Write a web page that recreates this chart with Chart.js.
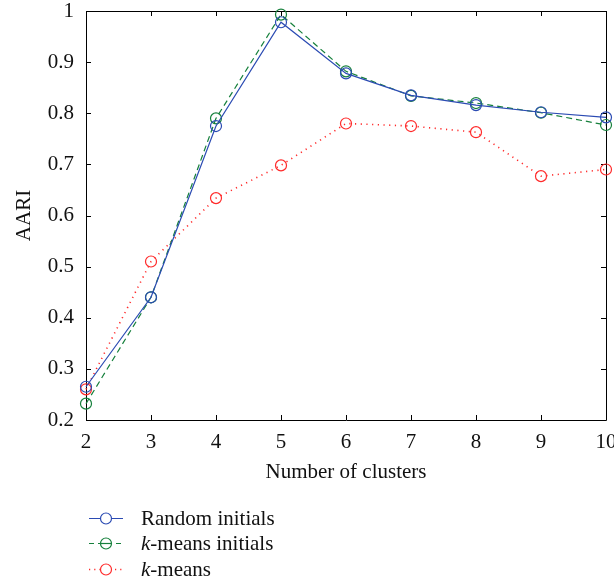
<!DOCTYPE html>
<html>
<head>
<meta charset="utf-8">
<script src="https://cdn.jsdelivr.net/npm/chart.js@4"></script>
<style>
  html, body {margin: 0; padding: 0; background: #fff;}
  canvas {display: block;}
</style>
</head>
<body>
<canvas id="chart_aari" width="614" height="583"></canvas>
<script>
// data - 클러스터 수
const clusters = ['2', '3', '4', '5', '6', '7', '8', '9', '10'];

// data - series 값
const randomInitials = [0.265, 0.440, 0.775, 0.978, 0.878, 0.835, 0.816, 0.802, 0.792];
const kmeansInitials = [0.232, 0.440, 0.790, 0.993, 0.882, 0.834, 0.820, 0.801, 0.777];
const kmeans = [0.260, 0.510, 0.634, 0.698, 0.780, 0.775, 0.763, 0.677, 0.690];

// y축 눈금
const yTicks = [0.2, 0.3, 0.4, 0.5, 0.6, 0.7, 0.8, 0.9, 1];

const FONT = 'Liberation Serif, Times New Roman, serif';
const BLUE = '#2b4bb3';
const GREEN = '#16803c';
const RED = '#ff2a2a';

// legend 항목
const legendItems = [
    {parts: [{t: 'Random initials'}], color: BLUE, dash: []},
    {parts: [{t: 'k', italic: true}, {t: '-means initials'}], color: GREEN, dash: [5, 4], strike: true},
    {parts: [{t: 'k', italic: true}, {t: '-means'}], color: RED, dash: [1.2, 4]}
];

// 공통 line 설정
function lineSet(label, data, color, dash, width) {
    return {
        label, data,
        borderColor: color,
        borderWidth: width,
        borderDash: dash,
        backgroundColor: 'transparent',
        fill: false,
        tension: 0,
        pointStyle: 'circle',
        pointRadius: 5.5,
        pointBorderWidth: 1.2,
        pointBorderColor: color,
        pointBackgroundColor: 'transparent',
        clip: false
    };
}

// frame + 안쪽 눈금
const framePlugin = {
    id: 'frame',
    beforeDatasetsDraw(chart) {
        const {ctx, chartArea: a, scales: {x, y}} = chart;
        const tl = 5;
        ctx.save();
        ctx.strokeStyle = '#000';
        ctx.lineWidth = 1;
        ctx.beginPath();
        ctx.rect(Math.round(a.left) + 0.5, Math.round(a.top) + 0.5, Math.round(a.right - a.left), Math.round(a.bottom - a.top));
        clusters.forEach((c, i) => {
            const px = Math.round(x.getPixelForValue(i)) + 0.5;
            ctx.moveTo(px, a.bottom); ctx.lineTo(px, a.bottom - tl);
            ctx.moveTo(px, a.top); ctx.lineTo(px, a.top + tl);
        });
        yTicks.forEach(v => {
            const py = Math.round(y.getPixelForValue(v)) + 0.5;
            ctx.moveTo(a.left, py); ctx.lineTo(a.left + tl, py);
            ctx.moveTo(a.right, py); ctx.lineTo(a.right - tl, py);
        });
        ctx.stroke();
        ctx.restore();
    },
    afterDraw(chart) {
        const ctx = chart.ctx;
        const x0 = 89, x1 = 123, tx = 141;
        const rows = [518, 543, 569];
        ctx.save();
        legendItems.forEach((it, i) => {
            const ry = rows[i] + 0.5;
            ctx.strokeStyle = it.color;
            ctx.lineWidth = it.dash.length && it.dash[0] < 2 ? 1.5 : 1;
            ctx.setLineDash(it.dash);
            ctx.beginPath();
            ctx.moveTo(x0, ry); ctx.lineTo(x1, ry);
            ctx.stroke();
            ctx.setLineDash([]);
            ctx.lineWidth = 1.2;
            ctx.clearRect((x0 + x1) / 2 - 6, ry - 6, 12, 12);
            ctx.beginPath();
            ctx.arc((x0 + x1) / 2, ry, 5.5, 0, Math.PI * 2);
            ctx.stroke();
            if (it.strike) {
                ctx.beginPath();
                ctx.moveTo((x0 + x1) / 2 - 5.5, ry); ctx.lineTo((x0 + x1) / 2 + 5.5, ry);
                ctx.stroke();
            }
            ctx.fillStyle = '#111';
            ctx.textBaseline = 'middle';
            let cx = tx;
            it.parts.forEach(p => {
                ctx.font = (p.italic ? 'italic ' : '') + '21px ' + FONT;
                ctx.fillText(p.t, cx, ry + 1);
                cx += ctx.measureText(p.t).width;
            });
        });
        ctx.restore();
    }
};

new Chart(document.getElementById('chart_aari'), {
    type: 'line',
    data: {
        labels: clusters,
        datasets: [
            lineSet('Random initials', randomInitials, BLUE, [], 1.2),
            lineSet('k-means initials', kmeansInitials, GREEN, [6, 4], 1.2),
            lineSet('k-means', kmeans, RED, [1.2, 4.5], 1.6)
        ]
    },
    options: {
        responsive: false,
        animation: false,
        layout: {padding: {left: 0, top: 11, right: 8, bottom: 98}},
        plugins: {legend: {display: false}, tooltip: {enabled: false}},
        scales: {
            x: {
                offset: false,
                grid: {display: false, drawTicks: false},
                border: {display: false},
                ticks: {color: '#111', padding: 10, maxRotation: 0, autoSkip: false, font: {family: FONT, size: 21}},
                title: {display: true, text: 'Number of clusters', color: '#111', padding: {top: 0, bottom: 0}, font: {family: FONT, size: 21}},
                afterFit(s) { s.height = 65; s.paddingLeft = 0; s.paddingRight = 0; }
            },
            y: {
                min: 0.2,
                max: 1,
                afterBuildTicks(s) { s.ticks = yTicks.map(v => ({value: v})); },
                grid: {display: false, drawTicks: false},
                border: {display: false},
                ticks: {color: '#111', padding: 12, font: {family: FONT, size: 21}, callback: v => String(+v.toFixed(1))},
                title: {display: true, text: 'AARI', color: '#111', padding: {top: 12, bottom: 0}, font: {family: FONT, size: 21}},
                afterFit(s) { s.width = 86; s.paddingTop = 0; s.paddingBottom = 0; }
            }
        }
    },
    plugins: [framePlugin]
});
</script>
</body>
</html>
